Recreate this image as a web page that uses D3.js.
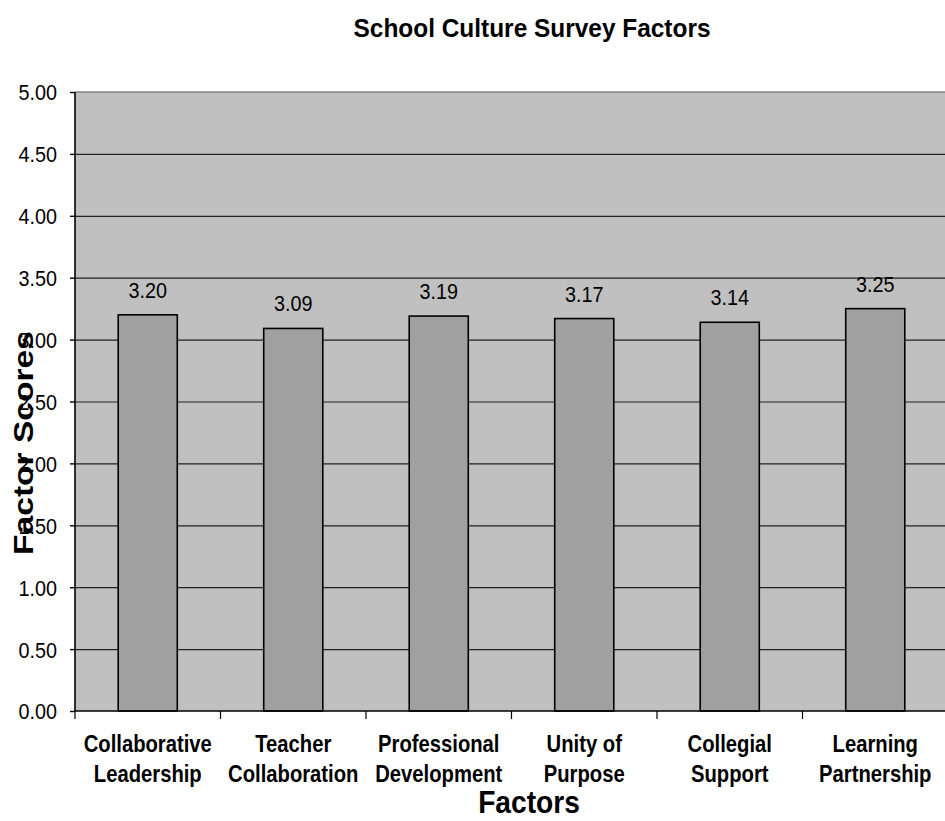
<!DOCTYPE html>
<html>
<head>
<meta charset="utf-8">
<script src="https://cdn.jsdelivr.net/npm/d3@7"></script>
<style>
  body { margin: 0; background: #fff; }
  svg { display: block; font-family: "Liberation Sans", Arial, sans-serif; }
</style>
</head>
<body>
<script>
const categories = [
    ["Collaborative", "Leadership"],
    ["Teacher", "Collaboration"],
    ["Professional", "Development"],
    ["Unity of", "Purpose"],
    ["Collegial", "Support"],
    ["Learning", "Partnership"]
];
const scores = [3.20, 3.09, 3.19, 3.17, 3.14, 3.25];
const yTicks = [0, 0.5, 1, 1.5, 2, 2.5, 3, 3.5, 4, 4.5, 5];

const width = 945, height = 821;
const plot = { left: 75, top: 92, right: 948, bottom: 711 };

const svg = d3.select("body").append("svg")
    .attr("width", width)
    .attr("height", height);

const keys = categories.map(c => c.join(" "));

const x = d3.scaleBand()
    .domain(keys)
    .range([plot.left, plot.right])
    .paddingInner(0.594)
    .paddingOuter(0.297);

const y = d3.scaleLinear()
    .domain([0, 5])
    .range([plot.bottom, plot.top]);

// plot background
svg.append("rect")
    .attr("x", plot.left)
    .attr("y", plot.top)
    .attr("width", plot.right - plot.left)
    .attr("height", plot.bottom - plot.top)
    .attr("fill", "#c0c0c0");

// gridlines
svg.append("g")
    .attr("transform", `translate(${plot.left},0)`)
    .call(d3.axisLeft(y).tickValues(yTicks.filter(d => d > 0 && d < 5)).tickSize(-(plot.right - plot.left)).tickFormat(""))
    .call(g => g.select(".domain").remove())
    .call(g => g.selectAll("line").attr("stroke", "#222").attr("stroke-width", 1.2));

// top border
svg.append("line")
    .attr("x1", plot.left).attr("x2", plot.right)
    .attr("y1", plot.top).attr("y2", plot.top)
    .attr("stroke", "#808080").attr("stroke-width", 1.5);

// bars
svg.append("g")
    .selectAll("rect")
    .data(scores)
    .join("rect")
    .attr("x", (d, i) => x(keys[i]))
    .attr("y", d => y(d))
    .attr("width", x.bandwidth())
    .attr("height", d => y(0) - y(d))
    .attr("fill", "#a0a0a0")
    .attr("stroke", "#000")
    .attr("stroke-width", 1.6);

// value labels
svg.append("g")
    .selectAll("text")
    .data(scores)
    .join("text")
    .attr("transform", (d, i) => `translate(${x(keys[i]) + x.bandwidth() / 2},${y(d) - 17}) scale(0.9,1)`)
    .attr("text-anchor", "middle")
    .attr("font-size", 22)
    .attr("fill", "#000")
    .text(d => d3.format(".2f")(d));

// y axis
svg.append("g")
    .attr("transform", `translate(${plot.left},0)`)
    .call(d3.axisLeft(y).tickValues(yTicks).tickSize(5).tickFormat(d3.format(".2f")))
    .call(g => g.select(".domain").attr("d", `M0,${plot.top}V${plot.bottom}`).attr("stroke", "#000").attr("stroke-width", 1.6))
    .call(g => g.selectAll(".tick line").attr("stroke", "#000").attr("stroke-width", 1.4))
    .call(g => g.selectAll(".tick text")
        .attr("font-size", 22)
        .attr("font-family", "Liberation Sans, Arial, sans-serif")
        .attr("fill", "#000")
        .attr("x", -20)
        .attr("dy", "0.36em")
        .attr("transform", "scale(0.9,1)"));

// x axis line and boundary ticks
svg.append("line")
    .attr("x1", plot.left).attr("x2", plot.right)
    .attr("y1", plot.bottom).attr("y2", plot.bottom)
    .attr("stroke", "#000").attr("stroke-width", 1.6);

const gap = (x.step() - x.bandwidth()) / 2;
const bounds = keys.map(k => x(k) - gap).concat([plot.right]);
svg.append("g")
    .selectAll("line")
    .data(bounds)
    .join("line")
    .attr("x1", d => d).attr("x2", d => d)
    .attr("y1", plot.bottom).attr("y2", plot.bottom + 8)
    .attr("stroke", "#000").attr("stroke-width", 1.2);

// category labels
const catG = svg.append("g")
    .selectAll("text")
    .data(categories)
    .join("text")
    .attr("transform", (d, i) => `translate(${x(keys[i]) + x.bandwidth() / 2},752) scale(0.88,1)`)
    .attr("text-anchor", "middle")
    .attr("font-size", 23)
    .attr("font-weight", "bold")
    .attr("fill", "#000");
catG.selectAll("tspan")
    .data(d => d)
    .join("tspan")
    .attr("x", 0)
    .attr("y", (d, i) => i * 30)
    .text(d => d);

// title
svg.append("text")
    .attr("transform", "translate(532,37) scale(0.94,1)")
    .attr("text-anchor", "middle")
    .attr("font-size", 26)
    .attr("font-weight", "bold")
    .text("School Culture Survey Factors");

// x title
svg.append("text")
    .attr("transform", "translate(529,813) scale(0.88,1)")
    .attr("text-anchor", "middle")
    .attr("font-size", 32)
    .attr("font-weight", "bold")
    .text("Factors");

// y title
svg.append("text")
    .attr("transform", "translate(33,443) rotate(-90) scale(1.2,1)")
    .attr("text-anchor", "middle")
    .attr("font-size", 28)
    .attr("font-weight", "bold")
    .text("Factor Scores");
</script>
</body>
</html>
